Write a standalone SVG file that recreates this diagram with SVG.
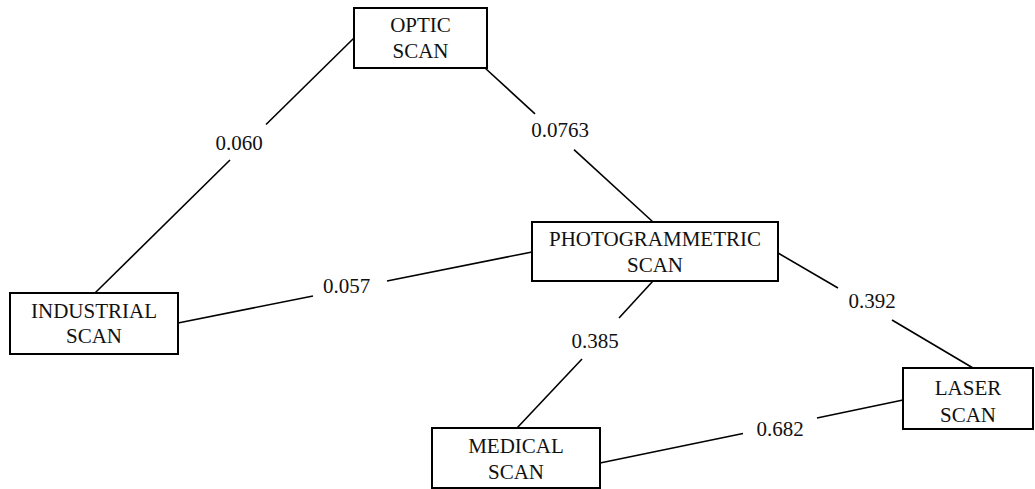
<svg xmlns="http://www.w3.org/2000/svg" width="1035" height="489" viewBox="0 0 1035 489">
<style>
.box{fill:#fff;stroke:#000;stroke-width:2}
.t{font-family:'Liberation Serif','Times New Roman','DejaVu Serif',serif;font-size:21px;fill:#111;text-anchor:middle}
.e{stroke:#000;stroke-width:1.6;fill:none}
</style>
<rect width="1035" height="489" fill="#fff"/>
<g id="connectors">
<line class="e" x1="354" y1="38" x2="266" y2="124.5"/>
<line class="e" x1="230" y1="160" x2="95" y2="293"/>
<line class="e" x1="485" y1="68" x2="535" y2="113.8"/>
<line class="e" x1="574" y1="149.6" x2="653" y2="222"/>
<line class="e" x1="178" y1="323" x2="313" y2="296"/>
<line class="e" x1="387" y1="281" x2="532" y2="252"/>
<line class="e" x1="653" y1="281" x2="619" y2="318"/>
<line class="e" x1="582" y1="359" x2="517" y2="428"/>
<line class="e" x1="778" y1="253" x2="838" y2="288"/>
<line class="e" x1="892" y1="320" x2="973" y2="368"/>
<line class="e" x1="600" y1="463" x2="743" y2="433.5"/>
<line class="e" x1="817" y1="418" x2="903" y2="400"/>
<text class="t" font-family="Liberation Serif, serif" x="239" y="150">0.060</text>
<text class="t" font-family="Liberation Serif, serif" x="560" y="137">0.0763</text>
<text class="t" font-family="Liberation Serif, serif" x="346.5" y="293">0.057</text>
<text class="t" font-family="Liberation Serif, serif" x="595" y="348">0.385</text>
<text class="t" font-family="Liberation Serif, serif" x="872" y="308">0.392</text>
<text class="t" font-family="Liberation Serif, serif" x="780" y="436">0.682</text>
</g>
<g id="optic">
<rect class="box" x="354" y="8" width="133" height="60"/>
<text class="t" font-family="Liberation Serif, serif" x="420.5" y="32">OPTIC</text>
<text class="t" font-family="Liberation Serif, serif" x="420.5" y="58">SCAN</text>
</g>
<g id="photogrammetric">
<rect class="box" x="532" y="222" width="246" height="59"/>
<text class="t" font-family="Liberation Serif, serif" x="655" y="246">PHOTOGRAMMETRIC</text>
<text class="t" font-family="Liberation Serif, serif" x="655" y="272">SCAN</text>
</g>
<g id="industrial">
<rect class="box" x="10" y="293" width="168" height="61"/>
<text class="t" font-family="Liberation Serif, serif" x="94" y="318">INDUSTRIAL</text>
<text class="t" font-family="Liberation Serif, serif" x="94" y="343">SCAN</text>
</g>
<g id="medical">
<rect class="box" x="432" y="428" width="168" height="60"/>
<text class="t" font-family="Liberation Serif, serif" x="516" y="453">MEDICAL</text>
<text class="t" font-family="Liberation Serif, serif" x="516" y="479">SCAN</text>
</g>
<g id="laser">
<rect class="box" x="903" y="368" width="130" height="61"/>
<text class="t" font-family="Liberation Serif, serif" x="968" y="395">LASER</text>
<text class="t" font-family="Liberation Serif, serif" x="968" y="422">SCAN</text>
</g>
</svg>
